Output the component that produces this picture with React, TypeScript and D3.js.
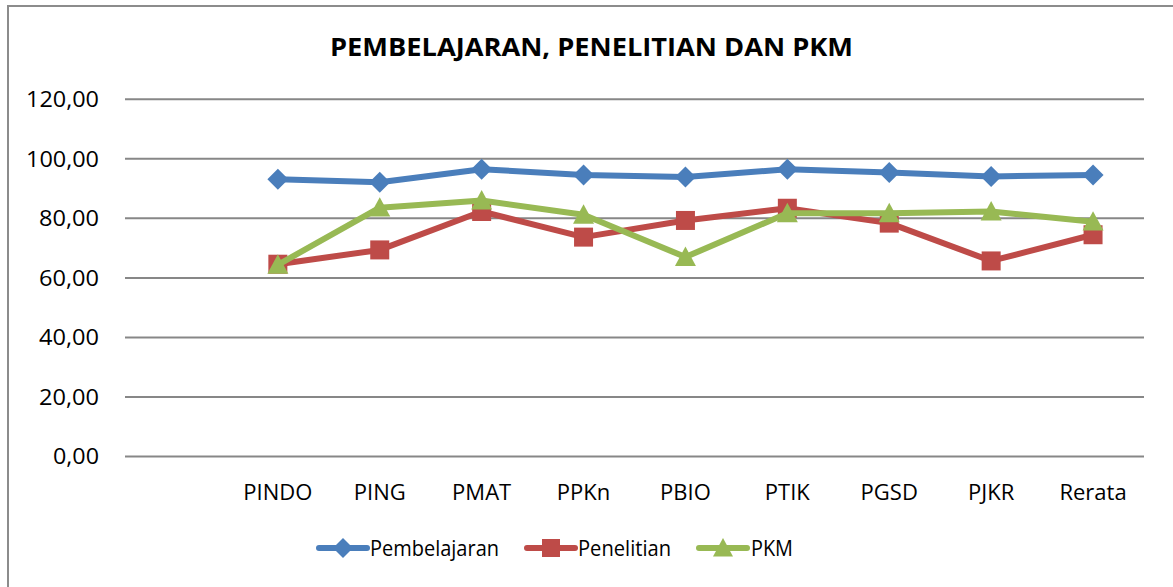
import React from 'react';
import * as d3 from 'd3';

const categories = ['', 'PINDO', 'PING', 'PMAT', 'PPKn', 'PBIO', 'PTIK', 'PGSD', 'PJKR', 'Rerata'];
const pembelajaran = [93.1, 92.1, 96.5, 94.6, 93.9, 96.5, 95.4, 94.1, 94.6];
const penelitian = [64.6, 69.4, 82.3, 73.7, 79.3, 83.4, 78.4, 65.7, 74.5];
const pkm = [64.4, 83.6, 86.0, 81.2, 67.0, 81.7, 81.7, 82.3, 78.9];
const yTicks = [0, 20, 40, 60, 80, 100, 120];

const seriesList = [
  { name: 'Pembelajaran', values: pembelajaran, color: '#4A7EBB', marker: 'diamond' },
  { name: 'Penelitian', values: penelitian, color: '#BE4B48', marker: 'square' },
  { name: 'PKM', values: pkm, color: '#98B954', marker: 'triangle' },
];

const W = 1173;
const H = 587;
const fontFam = '"Open Sans", "Noto Sans", sans-serif';

const markerPath = (type: string, s: number) => {
  const h = s / 2;
  if (type === 'diamond') return `M0,${-h}L${h},0L0,${h}L${-h},0Z`;
  if (type === 'square') return `M${-h},${-h}H${h}V${h}H${-h}Z`;
  return `M0,${-h}L${h},${h * 0.85}L${-h},${h * 0.85}Z`;
};

const fmt = (v: number) => v.toFixed(2).replace('.', ',');

export default function App() {
  const x = d3.scaleBand<string>().domain(categories).range([125, 1144]);
  const y = d3.scaleLinear().domain([0, 120]).range([456.5, 99.3]);
  const labels = categories.slice(1);

  const line = d3
    .line<number>()
    .x((_, i) => (x(labels[i]) as number) + x.bandwidth() / 2)
    .y((d) => y(d));

  // legend layout (line start x, text x, text width)
  const legendItems = [
    { lx: 319, tx: 370, tw: 129 },
    { lx: 527, tx: 578, tw: 93 },
    { lx: 699, tx: 751, tw: 42 },
  ];
  const legendY = 548;
  // tick label widths by character count
  const tickW: Record<number, number> = { 4: 46, 5: 60, 6: 73 };

  return (
    <div>
      <style>{`body{margin:0}svg{display:block}`}</style>
      <svg width={W} height={H} style={{ background: '#fff' }}>
        <rect x={8} y={6} width={W + 20} height={H + 20} fill="#fff" stroke="#8C8C8C" strokeWidth={2} />

        <text
          x={591.5}
          y={56}
          textAnchor="middle"
          fontFamily={fontFam}
          fontWeight="bold"
          fontSize={25}
          textLength={523}
          lengthAdjust="spacingAndGlyphs"
          fill="#000"
        >
          PEMBELAJARAN, PENELITIAN DAN PKM
        </text>

        {yTicks.map((t) => (
          <g key={t}>
            <line x1={125} x2={1144} y1={y(t)} y2={y(t)} stroke="#878787" strokeWidth={2} />
            <text
              x={99}
              y={y(t)}
              dy="0.35em"
              textAnchor="end"
              fontFamily={fontFam}
              fontSize={22}
              textLength={tickW[fmt(t).length]}
              lengthAdjust="spacingAndGlyphs"
              fill="#000"
            >
              {fmt(t)}
            </text>
          </g>
        ))}

        {labels.map((c) => (
          <text
            key={c}
            x={(x(c) as number) + x.bandwidth() / 2}
            y={500}
            textAnchor="middle"
            fontFamily={fontFam}
            fontSize={22}
            fill="#000"
          >
            {c}
          </text>
        ))}

        {seriesList.map((s) => (
          <g key={s.name}>
            <path d={line(s.values) || ''} fill="none" stroke={s.color} strokeWidth={6} strokeLinejoin="round" strokeLinecap="round" />
            {s.values.map((v, i) => (
              <path
                key={i}
                transform={`translate(${(x(labels[i]) as number) + x.bandwidth() / 2},${y(v)})`}
                d={markerPath(s.marker, s.marker === 'square' ? 19 : 21)}
                fill={s.color}
              />
            ))}
          </g>
        ))}

        {seriesList.map((s, i) => {
          const it = legendItems[i];
          return (
            <g key={s.name}>
              <line x1={it.lx} x2={it.lx + 48} y1={legendY} y2={legendY} stroke={s.color} strokeWidth={6} strokeLinecap="round" />
              <path
                transform={`translate(${it.lx + 24},${legendY})`}
                d={markerPath(s.marker, s.marker === 'square' ? 18 : 20)}
                fill={s.color}
              />
              <text
                x={it.tx}
                y={556}
                fontFamily={fontFam}
                fontSize={22}
                textLength={it.tw}
                lengthAdjust="spacingAndGlyphs"
                fill="#000"
              >
                {s.name}
              </text>
            </g>
          );
        })}
      </svg>
    </div>
  );
}
